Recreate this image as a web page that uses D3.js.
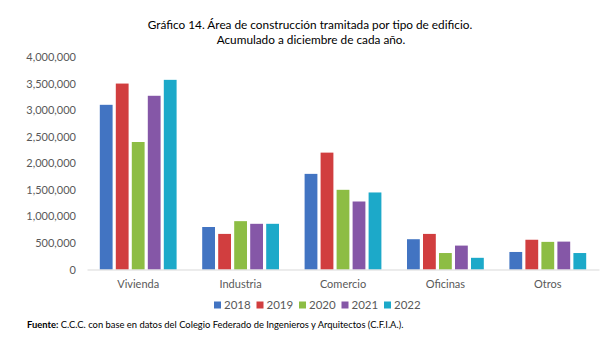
<!DOCTYPE html>
<html>
<head>
<meta charset="utf-8">
<script src="https://cdn.jsdelivr.net/npm/d3@7"></script>
<style>
  html, body { margin: 0; padding: 0; background: #fff; }
  svg { display: block; font-family: Lato, "Open Sans", sans-serif; }
</style>
</head>
<body>
<svg id="chart" width="604" height="343"></svg>
<script>
// Área de construcción tramitada (m²) por tipo de edificio, acumulado a diciembre
const categories = ["Vivienda", "Industria", "Comercio", "Oficinas", "Otros"];
const years = ["2018", "2019", "2020", "2021", "2022"];
const values2018 = [3100000, 800000, 1800000, 570000, 330000];
const values2019 = [3500000, 670000, 2200000, 670000, 560000];
const values2020 = [2400000, 910000, 1500000, 310000, 520000];
const values2021 = [3270000, 860000, 1280000, 450000, 525000];
const values2022 = [3570000, 860000, 1450000, 220000, 310000];
const yTicks = [0, 500000, 1000000, 1500000, 2000000, 2500000, 3000000, 3500000, 4000000];
const colors = ["#4274c2", "#d13e3f", "#8dbd44", "#8557a7", "#1ca9c9"];

const seriesValues = [values2018, values2019, values2020, values2021, values2022];
const rows = categories.map((c, i) => ({
  category: c,
  bars: years.map((y, j) => ({ year: y, value: seriesValues[j][i] }))
}));

const svg = d3.select("#chart");
const textColor = "#595959";

// Title
const title = svg.append("g").attr("text-anchor", "middle").attr("fill", "#000")
  .style("font-size", "11.8px");
title.append("text").attr("x", 310).attr("y", 29)
  .text("Gráfico 14. Área de construcción tramitada por tipo de edificio.");
title.append("text").attr("x", 311).attr("y", 44)
  .text("Acumulado a diciembre de cada año.");

// Scales
const x0 = d3.scaleBand().domain(categories).range([87, 599])
  .paddingInner(0.25).paddingOuter(0.125);
const x1 = d3.scaleBand().domain(years).range([0, x0.bandwidth()])
  .paddingInner(0.2).paddingOuter(0);
const y = d3.scaleLinear().domain([0, 4000000]).range([269.5, 57]);
const color = d3.scaleOrdinal().domain(years).range(colors);

// Y axis (labels only)
const yAxis = svg.append("g").attr("transform", "translate(76,0)")
  .call(d3.axisLeft(y).tickValues(yTicks).tickFormat(d3.format(",")).tickSize(0).tickPadding(0));
yAxis.select(".domain").remove();
yAxis.selectAll("text").attr("fill", textColor).style("font-size", "11px")
  .style("font-family", "Lato, 'Open Sans', sans-serif");

// Bars
svg.append("g").selectAll("g").data(rows).join("g")
  .attr("transform", d => `translate(${x0(d.category)},0)`)
  .selectAll("rect").data(d => d.bars).join("rect")
  .attr("x", d => x1(d.year))
  .attr("width", x1.bandwidth())
  .attr("y", d => y(d.value))
  .attr("height", d => y(0) - y(d.value))
  .attr("fill", d => color(d.year));

// X axis: baseline and category labels
const xAxis = svg.append("g").attr("transform", `translate(0,${y(0)})`)
  .call(d3.axisBottom(x0).tickSize(0).tickPadding(11));
xAxis.select(".domain").attr("stroke", "#d9d9d9").attr("stroke-width", 1);
xAxis.selectAll("text").attr("fill", textColor).style("font-size", "11px")
  .style("font-family", "Lato, 'Open Sans', sans-serif");

// Legend
const legend = svg.append("g").selectAll("g").data(years).join("g")
  .attr("transform", (d, i) => `translate(${214 + i * 42.5},305)`);
legend.append("rect").attr("x", 0).attr("y", -3.5).attr("width", 7).attr("height", 7)
  .attr("fill", d => color(d));
legend.append("text").attr("x", 10).attr("y", 4).attr("fill", textColor)
  .style("font-size", "11.5px").text(d => d);

// Source note
const note = svg.append("text").attr("x", 27).attr("y", 328).attr("fill", "#000")
  .style("font-size", "9.4px");
note.append("tspan").attr("font-weight", "bold").text("Fuente:");
note.append("tspan").text(" C.C.C. con base en datos del Colegio Federado de Ingenieros y Arquitectos (C.F.I.A.).");
</script>
</body>
</html>
